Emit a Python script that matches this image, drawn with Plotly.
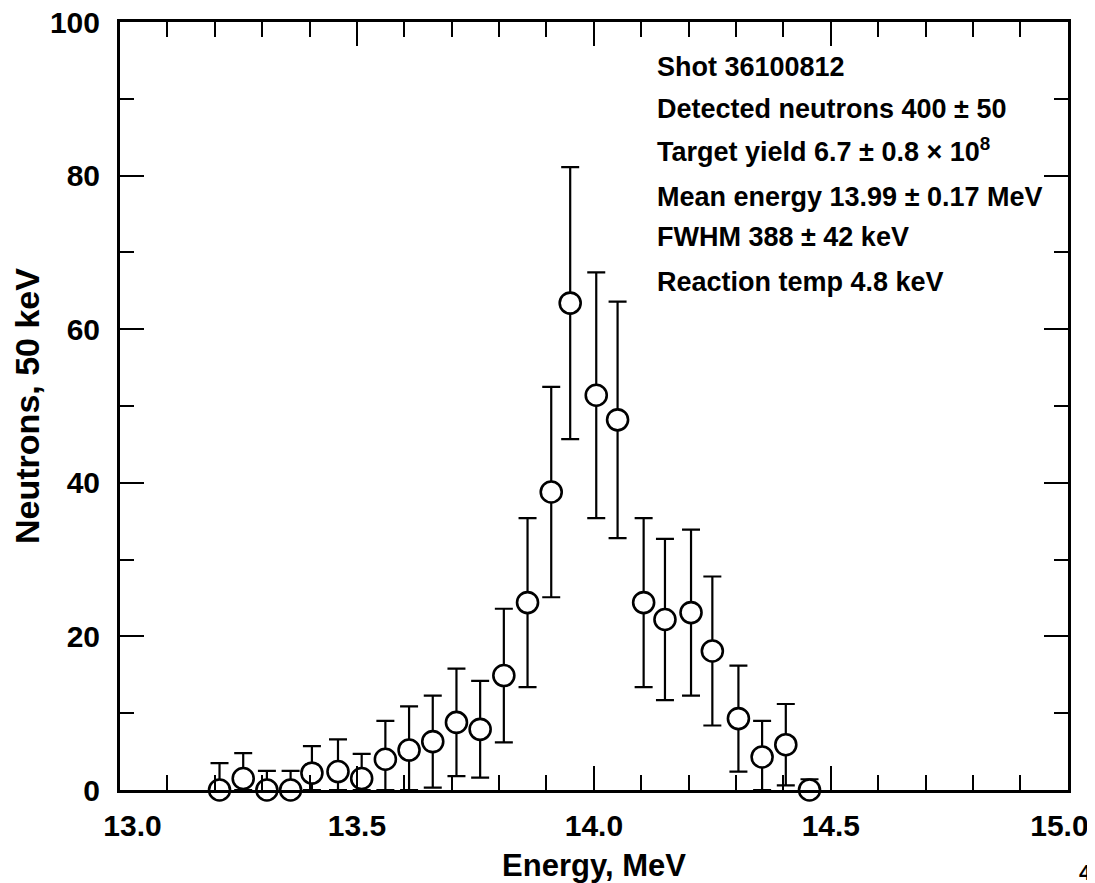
import plotly.graph_objects as go

energy = [13.21, 13.26, 13.31, 13.36, 13.405, 13.46, 13.51, 13.56, 13.61, 13.66,
          13.71, 13.76, 13.81, 13.86, 13.91, 13.95, 14.005, 14.05, 14.105, 14.15,
          14.205, 14.25, 14.305, 14.355, 14.405, 14.455]
neutrons = [0.0, 1.5, 0.0, 0.0, 2.2, 2.4, 1.5, 4.0, 5.2, 6.3,
            8.8, 7.9, 14.9, 24.4, 38.8, 63.4, 51.4, 48.2, 24.4, 22.2,
            23.1, 18.1, 9.3, 4.3, 5.9, 0.0]
errors = [3.5, 3.3, 2.5, 2.5, 3.5, 4.2, 3.2, 5.0, 5.7, 6.0,
          7.0, 6.3, 8.7, 11.0, 13.7, 17.7, 16.0, 15.4, 11.0, 10.5,
          10.8, 9.7, 6.9, 4.7, 5.3, 1.4]
# lower bars stop at the axis, as drawn in the reference
errors_minus = [min(e, v) for e, v in zip(errors, neutrons)]

NBSP = "\u00a0"
x_ticks = [13.0, 13.5, 14.0, 14.5, 15.0]
x_ticklabels = [NBSP * 3 + "13.0", "13.5", "14.0", "14.5", "15.0" + NBSP * 2]
y_ticks = [0, 20, 40, 60, 80, 100]

info_lines = [
    "Shot 36100812",
    "Detected neutrons 400 ± 50",
    "Target yield 6.7 ± 0.8 × 10<sup>8</sup>",
    "Mean energy 13.99 ± 0.17 MeV",
    "FWHM 388 ± 42 keV",
    "Reaction temp 4.8 keV",
]
info_y = [94.1, 88.7, 83.3, 77.2, 72.0, 66.1]

FONT = "Liberation Sans, Arial, Helvetica, sans-serif"

fig = go.Figure()
fig.add_trace(go.Scatter(
    x=energy, y=neutrons, mode="markers",
    marker=dict(symbol="circle", size=21, color="white",
                line=dict(color="black", width=2.6)),
    error_y=dict(type="data", array=errors, arrayminus=errors_minus,
                 symmetric=False, color="black", thickness=2.2, width=9),
    cliponaxis=False, showlegend=False,
))

for txt, yy in zip(info_lines, info_y):
    fig.add_annotation(x=14.13, y=yy, xref="x", yref="y", text=txt,
                       showarrow=False, xanchor="left", yanchor="middle",
                       font=dict(family=FONT, size=27, color="black", weight="bold"))

fig.add_annotation(x=1.0, y=0.0, xref="paper", yref="paper", text="4",
                   showarrow=False, xanchor="left", yanchor="middle",
                   xshift=9, yshift=-82,
                   font=dict(family=FONT, size=22, color="black", weight="bold"))

axis_common = dict(
    showline=True, linecolor="black", linewidth=3, mirror="allticks",
    ticks="inside", tickcolor="black", tickwidth=2.2, ticklen=24,
    showgrid=False, zeroline=False, ticklabeloverflow="allow",
    tickfont=dict(family=FONT, size=30, color="black", weight="bold"),
)

fig.update_xaxes(
    range=[13.0, 15.0005], tickmode="array", tickvals=x_ticks, ticktext=x_ticklabels,
    minor=dict(dtick=0.1, tick0=13.0, ticks="inside", ticklen=15, tickwidth=2.2,
               tickcolor="black", showgrid=False),
    title=dict(text="Energy, MeV", standoff=14,
               font=dict(family=FONT, size=31, color="black", weight="bold")),
    ticklabelstandoff=7,
    **axis_common,
)
fig.update_yaxes(
    range=[0, 100.001], tickmode="array", tickvals=y_ticks,
    minor=dict(dtick=10, tick0=0, ticks="inside", ticklen=14, tickwidth=2.2,
               tickcolor="black", showgrid=False),
    title=dict(text="Neutrons, 50 keV", standoff=9,
               font=dict(family=FONT, size=34, color="black", weight="bold")),
    ticklabelstandoff=11,
    **axis_common,
)

# the page adds an 8 px body margin; margins are set so the plot box
# lands at x 120..1068, y 22..790 in the 1095x883 window
fig.update_layout(
    width=1095, height=883,
    margin=dict(l=112, r=35, t=14, b=101, autoexpand=False),
    paper_bgcolor="white", plot_bgcolor="white",
)

fig.write_html("out.html")
